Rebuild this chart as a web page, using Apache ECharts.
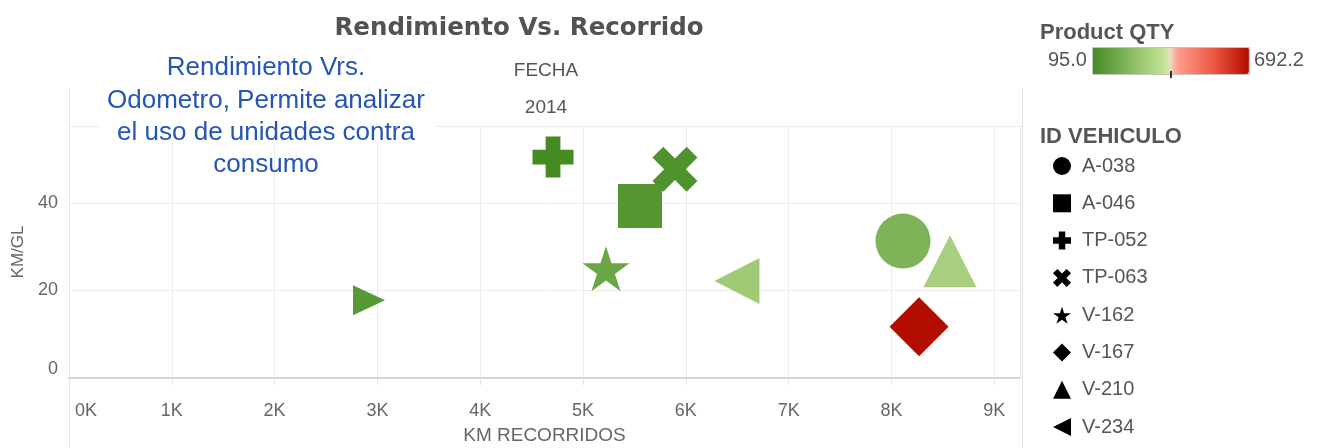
<!DOCTYPE html>
<html>
<head>
<meta charset="utf-8">
<script src="https://cdn.jsdelivr.net/npm/echarts@6/dist/echarts.min.js"></script>
<style>
html,body{margin:0;padding:0;background:#fff;}
#chart{width:1332px;height:448px;}
</style>
</head>
<body>
<div id="chart"></div>
<script>
// ---- data ----
const vehicles   = ['A-038', 'A-046', 'TP-052', 'TP-063', 'V-162', 'V-167', 'V-210', 'V-234', ''];
const kmRecorridos = [8112, 5554, 4708, 5894, 5223, 8268, 8569, 6497, 2918];
const kmPorGalon   = [31.3, 39.3, 50.5, 47.7, 25.0, 11.7, 26.7, 22.2, 17.8];
const productQty   = [220, 133, 95.0, 119, 179, 692.2, 308, 292, 139];
const qtyRange     = [95.0, 692.2];
const xTicks = [0, 1000, 2000, 3000, 4000, 5000, 6000, 7000, 8000, 9000];
const yTicks = [0, 20, 40];

// ---- styles ----
const shapes = [
  'circle',
  'rect',
  'path://M3.2,0H6.8V3.2H10V6.8H6.8V10H3.2V6.8H0V3.2H3.2Z',
  'path://M2.4,0L5,2.6L7.6,0L10,2.4L7.4,5L10,7.6L7.6,10L5,7.4L2.4,10L0,7.6L2.6,5L0,2.4Z',
  'path://M50,0L61.2,34.6L97.6,34.5L68.1,55.9L79.4,90.5L50,69L20.6,90.5L31.9,55.9L2.4,34.5L38.8,34.6Z',
  'diamond',
  'triangle',
  'path://M0,5L10,0L10,10Z',
  'path://M0,0L10,5L0,10Z'
];
const sizes = [55, 44, 41, 45, [47, 45], 59, [53, 52], [45, 46], [32, 30]];

const rampStops = [[0,'#448b22'],[0.47,'#c6e59a'],[0.505,'#f0dcc6'],[0.535,'#ffa191'],[0.78,'#ec5640'],[1,'#b30d00']];
function hex(c){return [parseInt(c.slice(1,3),16),parseInt(c.slice(3,5),16),parseInt(c.slice(5,7),16)];}
function ramp(n){
  const out=[];
  for(let i=0;i<n;i++){
    const t=i/(n-1);
    let k=0; while(k<rampStops.length-2 && t>rampStops[k+1][0]) k++;
    const a=rampStops[k], b=rampStops[k+1];
    const f=(t-a[0])/(b[0]-a[0]);
    const ca=hex(a[1]), cb=hex(b[1]);
    const c=ca.map((v,j)=>Math.round(v+(cb[j]-v)*f));
    out.push('rgb('+c.join(',')+')');
  }
  return out;
}

const series = vehicles.map((v, i) => ({
  type: 'scatter',
  name: v || undefined,
  symbol: shapes[i],
  symbolSize: sizes[i],
  symbolKeepAspect: false,
  data: [[kmRecorridos[i], kmPorGalon[i], productQty[i]]],
  itemStyle: {opacity: 1},
  emphasis: {scale: false}
}));

const chart = echarts.init(document.getElementById('chart'), null, {renderer: 'canvas'});
const gray = '#555555';
chart.setOption({
  backgroundColor: '#ffffff',
  animation: false,
  title: {
    text: 'Rendimiento Vs. Recorrido',
    left: 514, top: 11, textAlign: 'center',
    textStyle: {fontFamily: 'DejaVu Sans', fontWeight: 'bold', fontSize: 24.5, color: '#525252'}
  },
  grid: {left: 69, right: 312, top: 126, bottom: 70, outerBoundsMode: 'none', containLabel: false},
  xAxis: {
    type: 'value', min: 0, max: 9250, interval: 1000,
    name: 'KM RECORRIDOS', nameLocation: 'middle', nameGap: 48,
    nameTextStyle: {fontFamily: 'Liberation Sans', fontSize: 19, color: '#666'},
    axisLine: {show: true, lineStyle: {color: '#d4d4d4', width: 2}},
    axisTick: {show: true, length: 7, lineStyle: {color: '#e2e2e2'}},
    splitLine: {show: true, lineStyle: {color: '#ececec', width: 1}},
    axisLabel: {
      fontFamily: 'Liberation Sans', fontSize: 18, color: '#666', margin: 24,
      showMaxLabel: false, alignMinLabel: 'left',
      formatter: v => !xTicks.includes(v) ? '' : (v === 0 ? '{first|0K}' : (v / 1000) + 'K'),
      rich: {first: {fontFamily: 'Liberation Sans', fontSize: 18, color: '#666', padding: [0, 0, 0, 6]}}
    }
  },
  yAxis: {
    type: 'value', min: 0, max: 57.6, interval: 20,
    name: 'KM/GL', nameLocation: 'middle', nameGap: 41, nameRotate: 90,
    nameTextStyle: {fontFamily: 'Liberation Sans', fontSize: 17, color: '#666'},
    axisLine: {show: true, lineStyle: {color: '#e2e2e2', width: 1}},
    axisTick: {show: false},
    splitLine: {show: true, lineStyle: {color: '#ececec', width: 1}},
    axisLabel: {
      fontFamily: 'Liberation Sans', fontSize: 18, color: '#666', margin: 11,
      showMaxLabel: false, verticalAlignMinLabel: 'bottom',
      formatter: v => yTicks.includes(v) ? String(v) : ''
    }
  },
  visualMap: {
    type: 'continuous', dimension: 2,
    min: qtyRange[0], max: qtyRange[1],
    orient: 'horizontal', left: 1043, top: 42, padding: 5,
    itemWidth: 27, itemHeight: 157, calculable: false, realtime: false,
    text: ['692.2', '95.0'], textGap: 5,
    textStyle: {fontFamily: 'Liberation Sans', fontSize: 20, color: gray},
    inRange: {color: ramp(41)},
    seriesIndex: series.map((s, i) => i)
  },
  legend: {
    orient: 'vertical', left: 1048, top: 151,
    data: vehicles.filter(v => v),
    itemWidth: 18, itemHeight: 18, itemGap: 17.3,
    itemStyle: {color: '#000000', opacity: 1},
    textStyle: {fontFamily: 'Liberation Sans', fontSize: 20, color: gray, padding: [0, 0, 0, 6]},
    selectedMode: false
  },
  graphic: [
    {type: 'line', shape: {x1: 69.5, y1: 88, x2: 69.5, y2: 448}, style: {stroke: '#e2e2e2', lineWidth: 1}, z: 0},
    {type: 'line', shape: {x1: 1022.5, y1: 88, x2: 1022.5, y2: 448}, style: {stroke: '#e2e2e2', lineWidth: 1}, z: 0},
    {type: 'line', shape: {x1: 69, y1: 126.5, x2: 1022, y2: 126.5}, style: {stroke: '#ececec', lineWidth: 1}, z: 0},
    {type: 'rect', shape: {x: 100, y: 46, width: 335, height: 96}, style: {fill: '#ffffff'}, z: 1},
    {type: 'text', left: 1040, top: 22, style: {text: 'Product QTY', fontFamily: 'Liberation Sans', fontWeight: 'bold', fontSize: 22, fill: gray}},
    {type: 'text', left: 1040, top: 126, style: {text: 'ID VEHICULO', fontFamily: 'Liberation Sans', fontWeight: 'bold', fontSize: 22, fill: gray}},
    {type: 'rect', shape: {x: 1092.5, y: 47.5, width: 157, height: 27}, style: {fill: 'none', stroke: '#c4c4c4', lineWidth: 1}, z: 100},
    {type: 'line', shape: {x1: 1171, y1: 71, x2: 1171, y2: 78}, style: {stroke: '#333', lineWidth: 2}, z: 101},
    {type: 'text', x: 546, y: 71, style: {text: 'FECHA', fontFamily: 'Liberation Sans', fontSize: 19, fill: gray, align: 'center', verticalAlign: 'middle'}},
    {type: 'text', x: 546, y: 108, style: {text: '2014', fontFamily: 'Liberation Sans', fontSize: 19, fill: gray, align: 'center', verticalAlign: 'middle'}},
    {type: 'text', x: 266, y: 52, z: 2, style: {
      text: 'Rendimiento Vrs.\nOdometro, Permite analizar\nel uso de unidades contra\nconsumo',
      fontFamily: 'Liberation Sans', fontSize: 26, lineHeight: 32.3, fill: '#2456b4',
      align: 'center', verticalAlign: 'top'}}
  ],
  series: series
});
</script>
</body>
</html>
